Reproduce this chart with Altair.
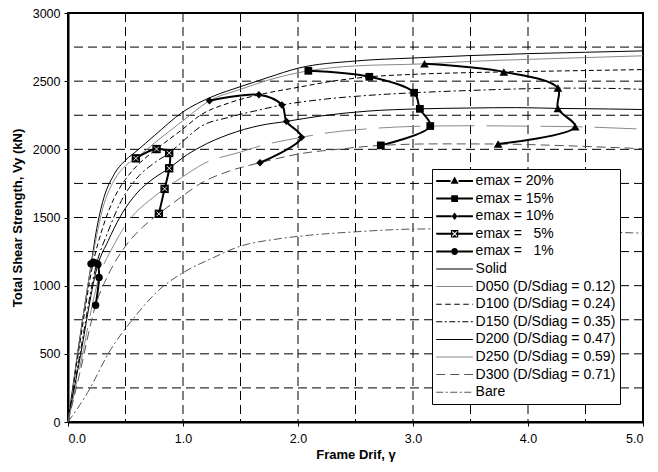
import altair as alt
import pandas as pd

# ---------------- data ----------------
solid_x = [0, 0.1, 0.2, 0.25, 0.3, 0.4, 0.5, 0.6, 0.75, 1.0, 1.25, 1.5, 1.75, 2.0, 2.5, 3.0, 3.5, 4.0, 4.5, 5.0]
solid_y = [0, 600, 1150, 1420, 1610, 1815, 1920, 1990, 2100, 2275, 2385, 2460, 2530, 2595, 2648, 2670, 2688, 2702, 2712, 2722]

d050_x = [0, 0.1, 0.2, 0.25, 0.3, 0.4, 0.5, 0.59, 0.75, 1.0, 1.23, 1.5, 1.75, 2.09, 2.5, 3.1, 3.5, 4.0, 4.5, 5.0]
d050_y = [0, 590, 1140, 1370, 1560, 1770, 1880, 1934, 2045, 2210, 2356, 2440, 2510, 2576, 2612, 2627, 2645, 2660, 2673, 2686]

d100_x = [0, 0.1, 0.22, 0.3, 0.4, 0.5, 0.6, 0.77, 1.0, 1.15, 1.4, 1.66, 2.0, 2.3, 2.62, 3.0, 3.5, 3.8, 4.5, 5.0]
d100_y = [0, 560, 1172, 1420, 1640, 1780, 1880, 2002, 2150, 2250, 2340, 2400, 2455, 2500, 2532, 2550, 2563, 2568, 2578, 2585]

d150_x = [0, 0.1, 0.25, 0.35, 0.45, 0.6, 0.75, 0.88, 1.0, 1.15, 1.4, 1.67, 1.86, 2.2, 2.6, 3.01, 3.5, 4.0, 4.26, 4.7, 5.0]
d150_y = [0, 480, 1165, 1400, 1600, 1790, 1900, 1973, 2060, 2165, 2235, 2290, 2325, 2365, 2395, 2415, 2432, 2445, 2449, 2447, 2440]

d200_x = [0, 0.1, 0.26, 0.35, 0.45, 0.6, 0.75, 0.88, 1.0, 1.15, 1.4, 1.67, 1.9, 2.2, 2.6, 3.06, 3.5, 3.9, 4.26, 4.7, 5.0]
d200_y = [0, 450, 1155, 1330, 1500, 1680, 1790, 1861, 1940, 2017, 2110, 2175, 2205, 2245, 2280, 2297, 2303, 2306, 2300, 2296, 2292]

d250_x = [0, 0.1, 0.27, 0.4, 0.55, 0.7, 0.84, 1.0, 1.18, 1.5, 1.67, 2.03, 2.2, 2.6, 3.15, 3.5, 4.0, 4.41, 5.0]
d250_y = [0, 390, 1060, 1300, 1500, 1620, 1710, 1800, 1895, 1980, 2025, 2088, 2114, 2150, 2171, 2173, 2170, 2166, 2148]

d300_x = [0, 0.1, 0.24, 0.35, 0.5, 0.65, 0.79, 1.0, 1.15, 1.4, 1.67, 2.0, 2.4, 2.72, 3.2, 3.74, 4.2, 4.6, 5.0]
d300_y = [0, 350, 856, 1080, 1290, 1430, 1527, 1660, 1749, 1840, 1902, 1965, 2005, 2029, 2040, 2039, 2030, 2018, 2005]

bare_x = [0, 0.17, 0.37, 0.56, 0.8, 1.0, 1.25, 1.5, 1.8, 2.1, 2.5, 3.0, 3.5, 4.0, 4.5, 5.0]
bare_y = [0, 215, 530, 750, 975, 1095, 1200, 1290, 1340, 1370, 1395, 1415, 1418, 1410, 1398, 1385]

e20_x = [3.10, 3.79, 4.26, 4.26, 4.41, 3.74]
e20_y = [2627, 2568, 2449, 2300, 2166, 2039]
e15_x = [2.09, 2.62, 3.01, 3.06, 3.15, 2.72]
e15_y = [2576, 2532, 2415, 2297, 2171, 2029]
e10_x = [1.23, 1.66, 1.86, 1.90, 2.03, 1.67]
e10_y = [2356, 2400, 2325, 2205, 2088, 1902]
e5_x = [0.59, 0.77, 0.88, 0.88, 0.84, 0.79]
e5_y = [1934, 2002, 1973, 1861, 1710, 1527]
e1_x = [0.20, 0.22, 0.25, 0.26, 0.27, 0.24]
e1_y = [1160, 1172, 1165, 1155, 1060, 856]

x_grid = [0.5, 1.0, 1.5, 2.0, 2.5, 3.0, 3.5, 4.0, 4.5]
y_grid = [250, 500, 750, 1000, 1250, 1500, 1750, 2000, 2250, 2500, 2750]
x_ticks = [0, 1, 2, 3, 4, 5]
y_ticks = [0, 500, 1000, 1500, 2000, 2500, 3000]

labels = ["emax = 20%", "emax = 15%", "emax = 10%", "emax = \u00a0\u00a05%", "emax = \u00a0\u00a01%",
          "Solid", "D050 (D/Sdiag = 0.12)", "D100 (D/Sdiag = 0.24)", "D150 (D/Sdiag = 0.35)",
          "D200 (D/Sdiag = 0.47)", "D250 (D/Sdiag = 0.59)", "D300 (D/Sdiag = 0.71)", "Bare"]

# ---------------- styles ----------------
BLACK = "#000000"
GRAY = "#8a8a8a"
DGRAY = "#555555"
curve_styles = [
    (solid_x, solid_y, BLACK, None),
    (d050_x, d050_y, GRAY, None),
    (d100_x, d100_y, BLACK, [5, 3]),
    (d150_x, d150_y, BLACK, [7, 3, 2, 3]),
    (d200_x, d200_y, BLACK, None),
    (d250_x, d250_y, GRAY, [42, 12]),
    (d300_x, d300_y, DGRAY, [9, 5]),
    (bare_x, bare_y, DGRAY, [8, 3, 2, 3]),
]
legend_dash = [None, None, [5.5, 3.5], [6, 2.5, 2, 2.5], None, None, [9, 5], [7, 2.5, 2, 2.5]]

xscale = alt.Scale(domain=[0, 5], nice=False, zero=False)
yscale = alt.Scale(domain=[0, 3000], nice=False, zero=False)
xaxis = alt.Axis(values=x_ticks, format=".1f", title="Frame Drif, \u03b3", grid=False,
                 tickSize=4, labelPadding=6, titlePadding=4)
yaxis = alt.Axis(values=y_ticks, format="d", title="Total Shear Strength, Vy (kN)", grid=False,
                 tickSize=4, labelPadding=4, titlePadding=8)


def X(f="x"):
    return alt.X(f"{f}:Q", scale=xscale, axis=xaxis)


def Y(f="y"):
    return alt.Y(f"{f}:Q", scale=yscale, axis=yaxis)


layers = []
# grid lines
layers.append(alt.Chart(pd.DataFrame({"x": x_grid})).mark_rule(
    color="black", strokeWidth=1, strokeDash=[9, 5]).encode(x=X()))
layers.append(alt.Chart(pd.DataFrame({"y": y_grid})).mark_rule(
    color="black", strokeWidth=1, strokeDash=[9, 5]).encode(y=Y()))

# curves
for xs, ys, col, dash in curve_styles:
    kw = dict(color=col, strokeWidth=1, interpolate="monotone")
    if dash:
        kw["strokeDash"] = dash
    layers.append(alt.Chart(pd.DataFrame({"x": xs, "y": ys})).mark_line(**kw).encode(x=X(), y=Y()))

# emax series
marker_series = [(e20_x, e20_y, "triangle-up", 75), (e15_x, e15_y, "square", 60),
                 (e10_x, e10_y, "diamond", 55), (e5_x, e5_y, "square", 70),
                 (e1_x, e1_y, "circle", 55)]
for k, (xs, ys, shp, sz) in enumerate(marker_series):
    df = pd.DataFrame({"x": xs, "y": ys, "i": list(range(len(xs)))})
    layers.append(alt.Chart(df).mark_line(color="black", strokeWidth=2, interpolate="catmull-rom").encode(
        x=X(), y=Y(), order="i:O"))
    layers.append(alt.Chart(df).mark_point(shape=shp, size=sz, filled=True, color="black", opacity=1).encode(
        x=X(), y=Y()))
    if k == 3:
        layers.append(alt.Chart(df).mark_point(shape="M-1,-1L1,1M-1,1L1,-1", size=22, filled=False,
                                               color="white", strokeWidth=0.9, opacity=1).encode(x=X(), y=Y()))

# ---------------- legend symbols (fill-only paths) ----------------
S = 8.0            # px per path unit for symbol size 256
HALF = 18.35 / S


def rect(x0, x1, h):
    return f"M{x0:.3f},{-h:.3f}H{x1:.3f}V{h:.3f}H{x0:.3f}Z"


def line_path(dash, thick):
    h = thick / 2 / S
    if not dash:
        return rect(-HALF, HALF, h)
    out, pos, i, on = [], -HALF, 0, True
    while pos < HALF - 1e-6:
        L = dash[i % len(dash)] / S
        if on:
            out.append(rect(pos, min(pos + L, HALF), h))
        pos += L
        on = not on
        i += 1
    return "".join(out)


def marker_path(kind):
    h = 1.0 / S
    if kind == "tri":
        w, m = 0.5, "M0,-0.55L0.5,0.35L-0.5,0.35Z"
    elif kind == "sq":
        w, m = 0.42, "M-0.42,-0.42L0.42,-0.42L0.42,0.42L-0.42,0.42Z"
    elif kind == "dia":
        w, m = 0.36, "M0,-0.46L0.36,0L0,0.46L-0.36,0Z"
    elif kind == "xsq":
        o, a, g = 0.46, 0.33, 0.1
        w = o
        m = (f"M{-o},{-o}L{o},{-o}L{o},{o}L{-o},{o}Z"
             f"M{-a},{-a}L{-a},{a}L{a},{a}L{a},{-a}Z"
             f"M{-a + g},{-a}L{a - g},{-a}L0,{-g}Z"
             f"M{a},{-a + g}L{a},{a - g}L{g},0Z"
             f"M{a - g},{a}L{-a + g},{a}L0,{g}Z"
             f"M{-a},{a - g}L{-a},{-a + g}L{-g},0Z")
    else:
        r = 0.44
        w, m = r, f"M{r},0A{r},{r} 0 1,1 {-r},0A{r},{r} 0 1,1 {r},0Z"
    return rect(-HALF, -w, h) + rect(w, HALF, h) + m


legend_paths = [marker_path(k) for k in ["tri", "sq", "dia", "xsq", "circ"]]
legend_paths += [line_path(d, 1.0) for d in legend_dash]
legend_colors = [BLACK] * 5 + [c[2] for c in curve_styles]

leg = alt.Legend(title=None, orient="none", legendX=364, legendY=156, padding=4,
                 strokeColor="black", fillColor="white", symbolSize=256,
                 symbolStrokeWidth=0, symbolOffset=10.6, labelOffset=13,
                 labelFont="Liberation Sans", labelFontSize=14, labelColor="black",
                 rowPadding=2.6, labelLimit=400, symbolLimit=0)

leg_df = pd.DataFrame({"series": labels, "x": [-1.0] * len(labels), "y": [-500.0] * len(labels)})
layers.append(alt.Chart(leg_df).mark_point(filled=True, clip=True, strokeWidth=0, opacity=1).encode(
    x=X(), y=Y(),
    color=alt.Color("series:N", scale=alt.Scale(domain=labels, range=legend_colors), legend=leg),
    shape=alt.Shape("series:N", scale=alt.Scale(domain=labels, range=legend_paths), legend=leg),
))

chart = alt.layer(*layers).properties(
    width=575, height=409,
    autosize=alt.AutoSizeParams(type="none"),
    padding={"left": 60, "top": 5, "right": 7, "bottom": 42},
    background="white",
).configure_view(stroke="black", strokeWidth=2).configure_axis(
    domainColor="black", domainWidth=2, tickColor="black", tickWidth=1,
    labelFont="Liberation Sans", labelFontSize=12.5, labelColor="black",
    titleFont="Liberation Sans", titleFontSize=13, titleFontWeight="bold", titleColor="black",
)

chart.save("out.html", embed_options={"renderer": "svg", "actions": False})
